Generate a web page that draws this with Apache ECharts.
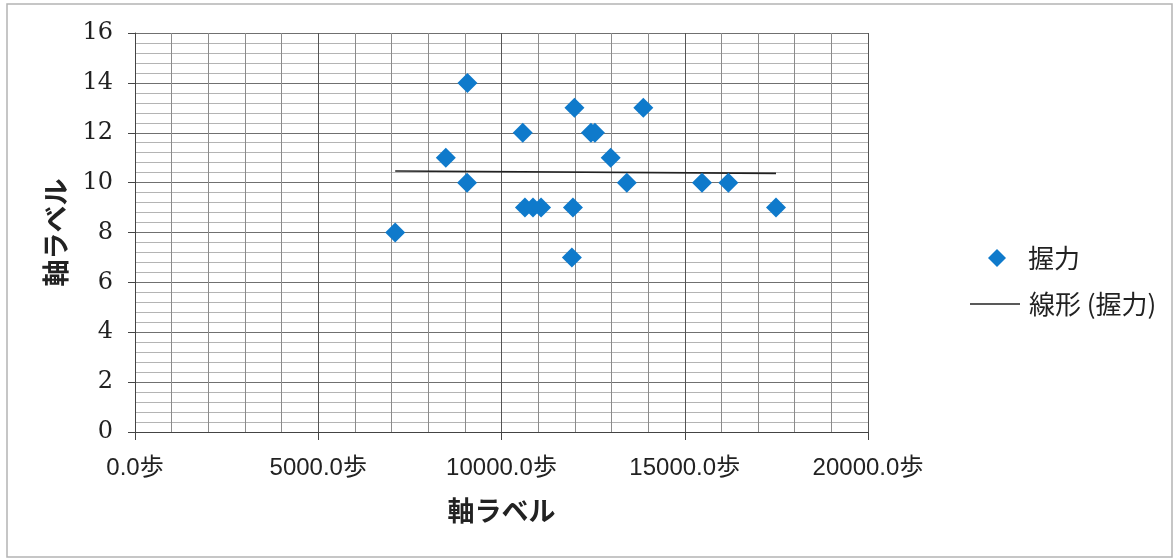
<!DOCTYPE html>
<html>
<head>
<meta charset="utf-8">
<script src="https://cdn.jsdelivr.net/npm/echarts@6/dist/echarts.min.js"></script>
<style>
  html, body { margin: 0; padding: 0; background: #fff; }
  #chart { width: 1174px; height: 560px; }
</style>
</head>
<body>
<div id="chart"></div>
<script>
// 歩数 (steps per day) and 握力 (grip strength) for each subject
const steps = [7100, 8480, 9070, 9060, 10580, 10640, 10860, 11080, 11990, 11950,
               11920, 12440, 12550, 12980, 13420, 13870, 15470, 16190, 17490];
const grip  = [8, 11, 14, 10, 12, 9, 9, 9, 13, 9,
               7, 12, 12, 11, 10, 13, 10, 10, 9];

const seriesName = '握力';
const trendName = '線形 (握力)';
const axisTitle = '軸ラベル';
const stepUnit = '歩';

// Least-squares fit for the linear trend line
function linearFit(xs, ys) {
  const n = xs.length;
  const mx = xs.reduce((a, b) => a + b, 0) / n;
  const my = ys.reduce((a, b) => a + b, 0) / n;
  let sxy = 0, sxx = 0;
  for (let i = 0; i < n; i++) {
    sxy += (xs[i] - mx) * (ys[i] - my);
    sxx += (xs[i] - mx) * (xs[i] - mx);
  }
  const slope = sxy / sxx;
  return { slope, intercept: my - slope * mx };
}
const fit = linearFit(steps, grip);
const xMin = Math.min(...steps), xMax = Math.max(...steps);
const trend = [xMin, xMax].map(x => [x, fit.intercept + fit.slope * x]);

const points = steps.map((s, i) => [s, grip[i]]);

const legendText = { fontFamily: 'Noto Sans CJK JP', fontSize: 26, color: '#222', lineHeight: 26 };

const chart = echarts.init(document.getElementById('chart'), null, { renderer: 'canvas' });
chart.setOption({
  backgroundColor: '#ffffff',
  animation: false,
  graphic: [{
    type: 'rect',
    shape: { x: 7, y: 4, width: 1165, height: 553 },
    style: { fill: 'none', stroke: '#b4b4b4', lineWidth: 1.5 },
    silent: true
  }],
  grid: { left: 135, top: 33, width: 733, height: 399, containLabel: false },
  legend: [
    {
      // marker entry
      left: 983,
      top: 240,
      itemWidth: 18,
      itemHeight: 18,
      textStyle: Object.assign({ padding: [0, 0, 0, 17] }, legendText),
      data: [{ name: seriesName, icon: 'diamond' }]
    },
    {
      // trend line entry
      left: 965,
      top: 286,
      itemWidth: 50,
      itemHeight: 1.6,
      textStyle: Object.assign({ padding: [0, 0, 0, 4] }, legendText),
      itemStyle: { color: '#222' },
      data: [{ name: trendName, icon: 'rect' }]
    }
  ],
  xAxis: {
    type: 'value',
    min: 0, max: 20000, interval: 5000,
    name: axisTitle,
    nameLocation: 'middle',
    nameGap: 65,
    nameTextStyle: { fontFamily: 'Noto Sans CJK JP', fontWeight: 'bold', fontSize: 27, color: '#222' },
    axisLine: { show: true, onZero: false, lineStyle: { color: '#444', width: 1 } },
    axisTick: { show: true, inside: false, length: 8, lineStyle: { color: '#444' } },
    axisLabel: {
      margin: 24,
      fontFamily: 'Liberation Sans, Noto Sans CJK JP', fontSize: 24, color: '#222',
      formatter: v => v.toFixed(1) + stepUnit
    },
    splitLine: { show: true, lineStyle: { color: '#555', width: 1 } },
    minorTick: { show: false, splitNumber: 5 },
    minorSplitLine: { show: true, lineStyle: { color: '#8c8c8c', width: 1 } }
  },
  yAxis: {
    type: 'value',
    min: 0, max: 16, interval: 2,
    name: axisTitle,
    nameLocation: 'middle',
    nameGap: 66,
    nameTextStyle: { fontFamily: 'Noto Sans CJK JP', fontWeight: 'bold', fontSize: 27, color: '#222' },
    axisLine: { show: true, onZero: false, lineStyle: { color: '#444', width: 1 } },
    axisTick: { show: true, inside: false, length: 7, lineStyle: { color: '#444' } },
    axisLabel: {
      margin: 22,
      fontFamily: 'DejaVu Serif', fontSize: 24, color: '#222'
    },
    splitLine: { show: true, lineStyle: { color: '#707070', width: 1 } },
    minorTick: { show: false, splitNumber: 5 },
    minorSplitLine: { show: true, lineStyle: { color: '#b4b4b4', width: 1 } }
  },
  series: [
    {
      name: seriesName,
      type: 'scatter',
      symbol: 'diamond',
      symbolSize: 20,
      itemStyle: { color: '#0f7acb', opacity: 1 },
      data: points,
      z: 3
    },
    {
      name: trendName,
      type: 'line',
      symbol: 'none',
      lineStyle: { color: '#222', width: 1.6 },
      itemStyle: { color: '#222' },
      data: trend,
      z: 2
    }
  ]
});
</script>
</body>
</html>
